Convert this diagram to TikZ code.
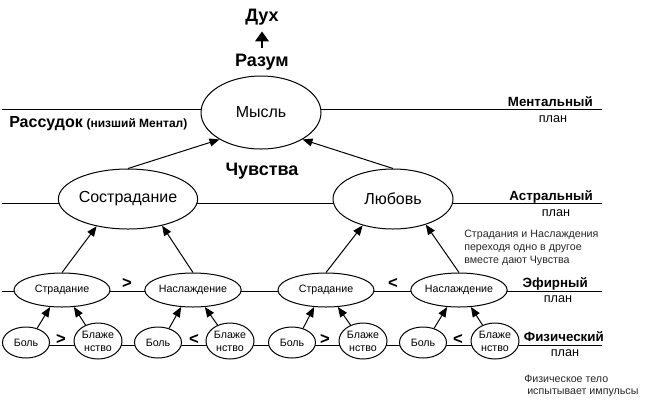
\documentclass[tikz,border=0pt]{standalone}
\usepackage{fontspec}
\setmainfont{Liberation Sans}
\usetikzlibrary{shapes.geometric,arrows.meta}
\begin{document}
\begin{tikzpicture}[x=0.75pt,y=-0.75pt,
  ln/.style={line width=0.75pt},
  ell/.style={ellipse,draw,line width=0.75pt,fill=white,inner sep=0pt},
  menell/.style={ell,minimum width=90pt,minimum height=54.75pt,font=\fontsize{12}{14}\selectfont},
  astell/.style={ell,minimum width=90pt,minimum height=45pt,font=\fontsize{12}{14}\selectfont},
  ethell/.style={ell,minimum width=72pt,minimum height=25.5pt,font=\fontsize{8}{9.5}\selectfont},
  painell/.style={ell,minimum width=35.25pt,minimum height=23.25pt,font=\fontsize{8}{9.5}\selectfont},
  blissell/.style={ell,minimum width=36pt,minimum height=27pt,font=\fontsize{8}{9.75}\selectfont,align=center},
  arr/.style={line width=0.75pt,-{Triangle[length=7.5pt,width=6pt]}},
  bigarr/.style={line width=2pt,-{Triangle[length=7.5pt,width=10pt]}},
  head/.style={inner sep=0pt,anchor=base,font=\fontsize{13.5}{16}\bfseries},
  plane/.style={inner sep=0pt,anchor=base east,font=\fontsize{10}{12}\bfseries},
  plan/.style={inner sep=0pt,anchor=base,font=\fontsize{9.5}{11}\selectfont},
  note/.style={inner sep=0pt,anchor=base west,font=\fontsize{8}{9.75}\selectfont,align=left,text=black!85},
  sign/.style={inner sep=0pt,font=\fontsize{12.5}{14}\bfseries}
]
\useasboundingbox (0,0) rectangle (653,401);

% plane lines
\draw[ln] (2,109) -- (602,109);
\draw[ln] (2,203) -- (602,203);
\draw[ln] (2,291) -- (602,291);
\draw[ln] (2,345) -- (602,345);

% heading texts
\node[head] (dukh) at (262,21.5) {Дух};
\node[head] (razum) at (262,66) {Разум};
\node[head] (chuv) at (262,175) {Чувства};
\node[inner sep=0pt,anchor=base west] (rass) at (9,127.5)
  {{\fontsize{12}{14}\bfseries Рассудок} {\fontsize{9}{11}\bfseries (низший Ментал)}};
\draw[bigarr,shorten <=4.2pt,shorten >=4.4pt] (razum.north) -- (dukh.south);

% plane labels
\node[plane] (lmen) at (593,106) {Ментальный};
\node[plan] (pmen) at (553,122) {план};
\node[plane] (last) at (593,200) {Астральный};
\node[plan] (past) at (556,216) {план};
\node[plane] (leth) at (588,287) {Эфирный};
\node[plan] (peth) at (558,302.7) {план};
\node[plane] (lphy) at (604,341.7) {Физический};
\node[plan] (pphy) at (565,356.7) {план};

\node[note] (n1) at (464,237) {Страдания и Наслаждения};
\node[note] (n2) at (464,250) {переходя одно в другое};
\node[note] (n3) at (464,263) {вместе дают Чувства};
\node[note] (n4) at (524,382.7) {Физическое тело};
\node[note] (n5) at (527,394.3) {испытывает импульсы};

% ellipses
\node[menell] (mys) at (261,112.5) {Мысль};
\node[astell] (sost) at (128,199) {Сострадание};
\node[astell] (lub) at (393,199) {Любовь};

\node[ethell] (str1) at (62,290) {Страдание};
\node[ethell] (nas1) at (193,290) {Наслаждение};
\node[ethell] (str2) at (326,290) {Страдание};
\node[ethell] (nas2) at (459,290) {Наслаждение};

\node[painell] (bol1) at (26,342.5) {Боль};
\node[blissell] (bla1) at (98,341) {Блаже\\нство};
\node[painell] (bol2) at (158,342.5) {Боль};
\node[blissell] (bla2) at (230,341) {Блаже\\нство};
\node[painell] (bol3) at (292,342.5) {Боль};
\node[blissell] (bla3) at (363,341) {Блаже\\нство};
\node[painell] (bol4) at (423,342.5) {Боль};
\node[blissell] (bla4) at (495,341) {Блаже\\нство};

% signs
\node[sign] (s1) at (127,283) {>};
\node[sign] (s2) at (393,283) {<};
\node[sign] (s3) at (61,339) {>};
\node[sign] (s4) at (194,339) {<};
\node[sign] (s5) at (325,339) {>};
\node[sign] (s6) at (458,339) {<};

% arrows
\draw[arr] (sost.north) -- (mys.213);
\draw[arr] (lub.north) -- (mys.327);
\draw[arr] (str1.north) -- (sost.221);
\draw[arr] (nas1.north) -- (sost.322);
\draw[arr] (str2.north) -- (lub.221);
\draw[arr] (nas2.north) -- (lub.322);
\draw[arr] (bol1.52) -- (str1.235);
\draw[arr] (bla1.128) -- (str1.305);
\draw[arr] (bol2.52) -- (nas1.235);
\draw[arr] (bla2.128) -- (nas1.305);
\draw[arr] (bol3.52) -- (str2.235);
\draw[arr] (bla3.128) -- (str2.305);
\draw[arr] (bol4.52) -- (nas2.235);
\draw[arr] (bla4.128) -- (nas2.305);
\end{tikzpicture}
\end{document}
